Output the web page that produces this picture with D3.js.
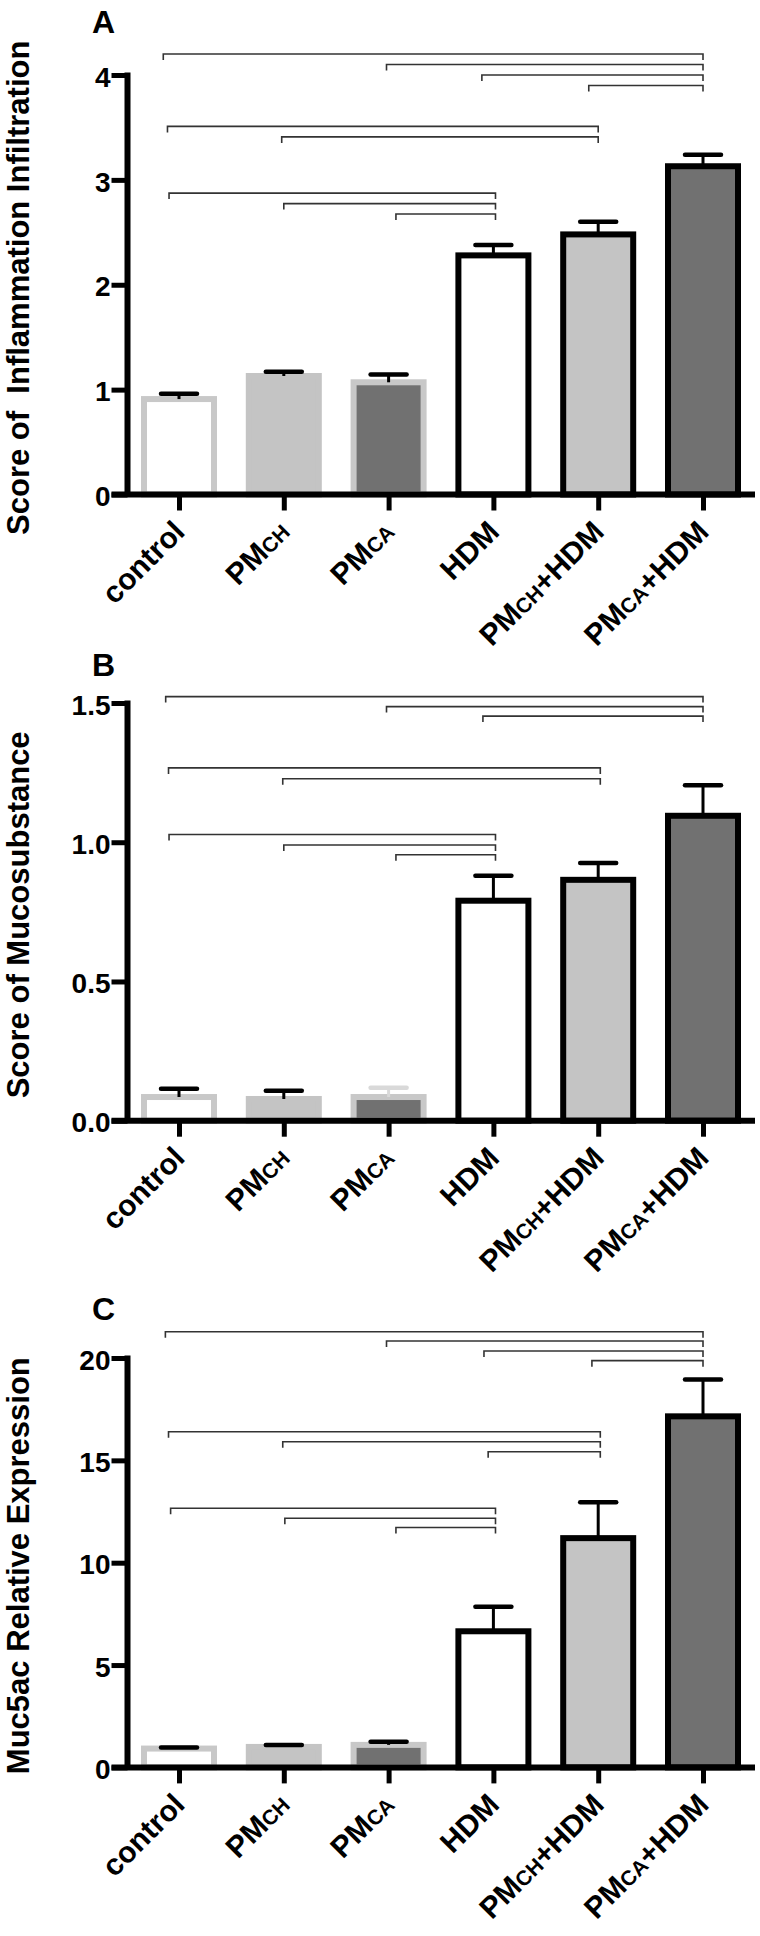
<!DOCTYPE html>
<html>
<head>
<meta charset="utf-8">
<script src="https://cdn.jsdelivr.net/npm/d3@7"></script>
<style>
  body { margin: 0; background: #fff; }
  svg text { font-family: "Liberation Sans", Arial, sans-serif; font-weight: bold; fill: #000; }
</style>
</head>
<body>
<div id="chart"></div>
<script>
// groups, label split into [main, subscript, tail]
var groups = [["control"], ["PM", "CH"], ["PM", "CA"], ["HDM"], ["PM", "CH", "+HDM"], ["PM", "CA", "+HDM"]];
var fills = ["#ffffff", "#c4c4c4", "#717171", "#ffffff", "#c4c4c4", "#717171"];
var strokes = ["#c8c8c8", "#c4c4c4", "#c8c8c8", "#000000", "#000000", "#000000"];

// A: inflammation score
var inflamValues = [0.91, 1.13, 1.07, 2.28, 2.48, 3.13];
var inflamErrors = [0.05, 0.04, 0.075, 0.10, 0.12, 0.11];
var inflamTicks = [0, 1, 2, 3, 4];
var inflamBrackets = [
    [-0.15, 5.0, 4.2], [1.98, 5.0, 4.1], [2.89, 5.0, 4.0], [3.91, 5.0, 3.9],
    [-0.11, 4.0, 3.51], [0.98, 4.0, 3.41],
    [-0.095, 3.02, 2.874], [1.0, 3.02, 2.774], [2.07, 3.02, 2.674]
];

// B: mucosubstance score
var mucoValues = [0.085, 0.078, 0.085, 0.79, 0.865, 1.095];
var mucoErrors = [0.03, 0.03, 0.033, 0.09, 0.06, 0.11];
var mucoTicks = [0, 0.5, 1.0, 1.5];
var mucoBrackets = [
    [-0.127, 5.0, 1.523], [1.98, 5.0, 1.487], [2.9, 5.0, 1.453],
    [-0.1, 4.02, 1.267], [0.99, 4.02, 1.228],
    [-0.095, 3.02, 1.028], [1.0, 3.02, 0.99], [2.07, 3.02, 0.955]
];

// C: Muc5ac relative expression
var muc5acValues = [0.92, 1.0, 1.1, 6.65, 11.2, 17.15];
var muc5acErrors = [0.05, 0.1, 0.15, 1.2, 1.75, 1.8];
var muc5acTicks = [0, 5, 10, 15, 20];
var muc5acBrackets = [
    [-0.13, 5.0, 21.28], [1.98, 5.0, 20.83], [2.91, 5.0, 20.34], [3.94, 5.0, 19.87],
    [-0.1, 4.02, 16.4], [0.99, 4.02, 15.91], [2.95, 4.02, 15.42],
    [-0.08, 3.02, 12.66], [1.01, 3.02, 12.17], [2.07, 3.02, 11.72]
];

var panels = [
    { letter: "A", title: "Score of  Inflammation Infiltration", max: 4, fmt: d3.format("d"),
      values: inflamValues, errors: inflamErrors, ticks: inflamTicks, brackets: inflamBrackets,
      top: 75, bottom: 494.5, letterY: 33, errColors: ["#000", "#000", "#000", "#000", "#000", "#000"] },
    { letter: "B", title: "Score of Mucosubstance", max: 1.5, fmt: d3.format(".1f"),
      values: mucoValues, errors: mucoErrors, ticks: mucoTicks, brackets: mucoBrackets,
      top: 703, bottom: 1120.7, letterY: 676, errColors: ["#000", "#000", "#d9d9d9", "#000", "#000", "#000"] },
    { letter: "C", title: "Muc5ac Relative Expression", max: 20, fmt: d3.format("d"),
      values: muc5acValues, errors: muc5acErrors, ticks: muc5acTicks, brackets: muc5acBrackets,
      top: 1358, bottom: 1767.4, letterY: 1320, errColors: ["#000", "#000", "#000", "#000", "#000", "#000"] }
];

var svg = d3.select("#chart")
    .append("svg")
    .attr("width", 760)
    .attr("height", 1936);

svg.append("rect").attr("width", 760).attr("height", 1936).attr("fill", "#fff");

var axisX = 127.5;
var x = d3.scaleLinear().domain([0, 5]).range([179, 703]);
var barW = 70;

function drawPanel(p) {
    var y = d3.scaleLinear().domain([0, p.max]).range([p.bottom, p.top]);
    var g = svg.append("g");

    // bars
    g.selectAll("rect.bar")
        .data(p.values)
        .enter()
        .append("rect")
        .attr("class", "bar")
        .attr("x", function (d, i) { return x(i) - barW / 2; })
        .attr("width", barW)
        .attr("y", function (d) { return y(d); })
        .attr("height", function (d) { return p.bottom - y(d); })
        .attr("fill", function (d, i) { return fills[i]; })
        .attr("stroke", function (d, i) { return strokes[i]; })
        .attr("stroke-width", 6);

    // error bars (upper only)
    var err = g.selectAll("g.err")
        .data(p.values)
        .enter()
        .append("g")
        .attr("stroke", function (d, i) { return p.errColors[i]; });
    err.append("line")
        .attr("x1", function (d, i) { return x(i); })
        .attr("x2", function (d, i) { return x(i); })
        .attr("y1", function (d) { return y(d); })
        .attr("y2", function (d, i) { return y(d + p.errors[i]); })
        .attr("stroke-width", 3);
    err.append("line")
        .attr("x1", function (d, i) { return x(i) - 18; })
        .attr("x2", function (d, i) { return x(i) + 18; })
        .attr("y1", function (d, i) { return y(d + p.errors[i]); })
        .attr("y2", function (d, i) { return y(d + p.errors[i]); })
        .attr("stroke-width", 4.5)
        .attr("stroke-linecap", "round");

    // x axis baseline
    g.append("line")
        .attr("x1", 111.5).attr("x2", 755)
        .attr("y1", y(0)).attr("y2", y(0))
        .attr("stroke", "#000").attr("stroke-width", 6);

    // x ticks
    var xAxis = g.append("g")
        .attr("transform", "translate(0," + y(0) + ")")
        .call(d3.axisBottom(x).tickValues(d3.range(groups.length)).tickSize(16).tickSizeOuter(0).tickFormat(""));
    xAxis.select(".domain").remove();
    xAxis.selectAll(".tick line").attr("stroke", "#000").attr("stroke-width", 5);

    // x labels
    var labels = g.selectAll("text.xl")
        .data(groups)
        .enter()
        .append("text")
        .attr("class", "xl")
        .attr("text-anchor", "end")
        .attr("transform", function (d, i) {
            return "translate(" + (x(i) + 7.5) + "," + (y(0) + 39) + ") rotate(-45)";
        });
    labels.each(function (d) {
        var t = d3.select(this);
        t.append("tspan").style("font-size", "30px").text(d[0]);
        if (d[1]) t.append("tspan").style("font-size", "21px").text(d[1]);
        if (d[2]) t.append("tspan").style("font-size", "30px").text(d[2]);
    });

    // y axis
    var yAxis = g.append("g")
        .attr("transform", "translate(" + axisX + ",0)")
        .call(d3.axisLeft(y).tickValues(p.ticks).tickSize(16).tickSizeOuter(0).tickPadding(1).tickFormat(p.fmt));
    yAxis.select(".domain").attr("stroke", "#000").attr("stroke-width", 6)
        .attr("d", "M0," + (p.top - 2.5) + "V" + p.bottom);
    yAxis.selectAll(".tick line").attr("stroke", "#000").attr("stroke-width", 5);
    yAxis.selectAll(".tick text")
        .attr("dy", "0.4em")
        .style("font-size", "28px")
        .style("font-family", "'Liberation Sans', Arial, sans-serif")
        .style("font-weight", "bold")
        .attr("fill", "#000");

    // y title
    g.append("text")
        .attr("text-anchor", "middle")
        .attr("transform", "translate(28.5," + ((p.top + p.bottom) / 2 + 3) + ") rotate(-90)")
        .style("font-size", "31px")
        .style("white-space", "pre")
        .attr("xml:space", "preserve")
        .text(p.title);

    // panel letter
    g.append("text")
        .attr("x", 92)
        .attr("y", p.letterY)
        .style("font-size", "32px")
        .text(p.letter);

    // significance brackets
    g.selectAll("path.br")
        .data(p.brackets)
        .enter()
        .append("path")
        .attr("class", "br")
        .attr("fill", "none")
        .attr("stroke", "#333")
        .attr("stroke-width", 1.6)
        .attr("d", function (b) {
            var yy = y(b[2]);
            return "M" + x(b[0]) + "," + (yy + 6) + "V" + yy + "H" + x(b[1]) + "V" + (yy + 6);
        });
}

panels.forEach(drawPanel);
</script>
</body>
</html>
